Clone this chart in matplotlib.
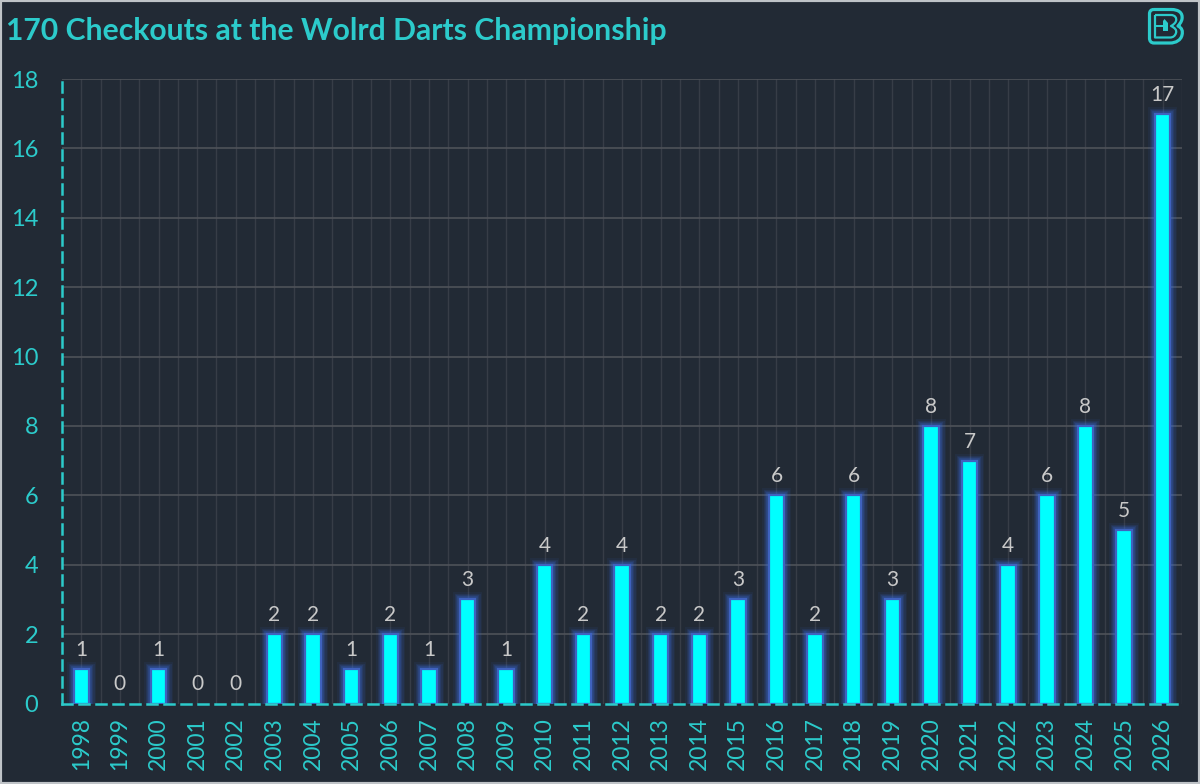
import matplotlib
matplotlib.use("Agg")
import matplotlib.pyplot as plt
from matplotlib.patches import PathPatch, Rectangle, Polygon
from matplotlib.path import Path

years = [str(y) for y in range(1998, 2027)]
checkouts = [1, 0, 1, 0, 0, 2, 2, 1, 2, 1, 3, 1, 4, 2, 4, 2, 2, 3, 6, 2, 6, 3, 8, 7, 4, 6, 8, 5, 17]
title = "170 Checkouts at the Wolrd Darts Championship"

BG = "#222A35"
TEAL = "#2CCBCB"
GRID = "#4E5259"
MINOR = "#373D47"
LABEL = "#C9C9C9"

plt.rcParams["font.family"] = ["Lato", "DejaVu Sans"]
W, H = 1200, 784
fig = plt.figure(figsize=(W / 100, H / 100), dpi=100, facecolor=BG)

L, R, T, B = 62, 1182, 79, 703.5
ax = fig.add_axes([L / W, 1 - B / H, (R - L) / W, (B - T) / H], facecolor=BG)
x = list(range(len(years)))
ax.set_xlim(-0.5, len(years) - 0.5)
ax.set_ylim(0, 18)

# gridlines
ax.set_yticks(range(0, 19, 2))
ax.set_xticks(x)
ax.set_xticklabels(years, rotation=90)
ax.set_xticks([i - 0.5 for i in x] + [len(x) - 0.5], minor=True)
ax.grid(axis="y", color=GRID, lw=1.2, zorder=1)
ax.grid(axis="x", which="major", color=MINOR, lw=1, zorder=1)
ax.grid(axis="x", which="minor", color=MINOR, lw=1, zorder=1)
ax.get_ygridlines()[0].set_visible(False)
ax.xaxis.get_minorticklines()
ax.xaxis.get_minor_ticks()[0].gridline.set_visible(False)
ax.tick_params(which="both", length=0)
ax.tick_params(axis="y", labelsize=17, labelcolor=TEAL, pad=17)
ax.tick_params(axis="x", labelsize=16.5, labelcolor=TEAL, pad=10)

# bars with a soft blue glow (zero-height bars draw nothing)
bar_x = [xi for xi, v in zip(x, checkouts) if v > 0]
bar_v = [v for v in checkouts if v > 0]
bar_w = 0.40
for lw, a in [(10, 0.07), (8, 0.10), (6, 0.15), (4, 0.25)]:
    ax.bar(bar_x, bar_v, width=bar_w, color="none", edgecolor="#3A6FE0", lw=lw, alpha=a, zorder=2)
ax.bar(bar_x, bar_v, width=bar_w, color="#00FFFF", edgecolor="#3F62BF", lw=1.6, zorder=3)

for xi, v in zip(x, checkouts):
    ax.annotate(str(v), (xi, v), xytext=(0, 6.5), textcoords="offset points",
                ha="center", va="bottom", fontsize=15, color=LABEL, zorder=5)

# dashed left and bottom axes
for s in ["top", "right"]:
    ax.spines[s].set_visible(False)
for s in ["left", "bottom"]:
    ax.spines[s].set_color(TEAL)
    ax.spines[s].set_linewidth(1.8)
    ax.spines[s].set_linestyle((0, (4.0, 2.8)))
    ax.spines[s].set_zorder(6)

fig.text(6 / W, 1 - 31 / H, title, fontsize=21.7, fontweight="bold", color=TEAL, ha="left", va="center")

# logo
def P(px, py):
    return (px / W, 1 - py / H)

def bshape(pts, lw):
    M, Ln, C = Path.MOVETO, Path.LINETO, Path.CURVE4
    verts, codes = [], []
    for code, group in pts:
        for p in group:
            verts.append(P(*p))
            codes.append({"M": M, "L": Ln, "C": C}[code])
    fig.add_artist(PathPatch(Path(verts, codes), fc="none", ec=TEAL, lw=lw, joinstyle="round",
                             transform=fig.transFigure))

bshape([("M", [(1154, 9.5)]), ("L", [(1171, 9.5)]),
        ("C", [(1179, 9.5), (1183, 13), (1182, 19)]),
        ("C", [(1181.5, 22), (1179, 25), (1178, 26)]),
        ("C", [(1182, 28), (1183, 31), (1182, 35)]),
        ("C", [(1181, 40), (1176, 43), (1170, 43)]),
        ("L", [(1154, 43)]),
        ("C", [(1151, 43), (1149.5, 41), (1149.5, 38)]),
        ("L", [(1149.5, 14)]),
        ("C", [(1149.5, 11), (1151, 9.5), (1154, 9.5)])], 2.3)
bshape([("M", [(1155, 15)]), ("L", [(1171, 15)]),
        ("C", [(1175, 15), (1177, 18), (1176, 21)]),
        ("C", [(1175.5, 23), (1173, 25), (1171, 26)]),
        ("C", [(1175, 28), (1177, 30), (1176, 33)]),
        ("C", [(1175, 36), (1173, 37.5), (1170, 37.5)]),
        ("L", [(1155, 37.5)]), ("L", [(1155, 15)])], 1.6)
fig.add_artist(Polygon([P(1164.5, 19), P(1168, 23), P(1168, 31), P(1163, 31), P(1163, 21)],
                       closed=True, fc=TEAL, ec="none", transform=fig.transFigure))
fig.add_artist(Rectangle(P(1155, 26.5), 8 / W, 2 / H, fc=TEAL, ec="none", transform=fig.transFigure))

# outer frame
fig.add_artist(Rectangle((0, 0), 1, 1, fc="none", ec="#BFC3C7", lw=3, transform=fig.transFigure))

fig.savefig("out.png", dpi=100, facecolor=BG)
